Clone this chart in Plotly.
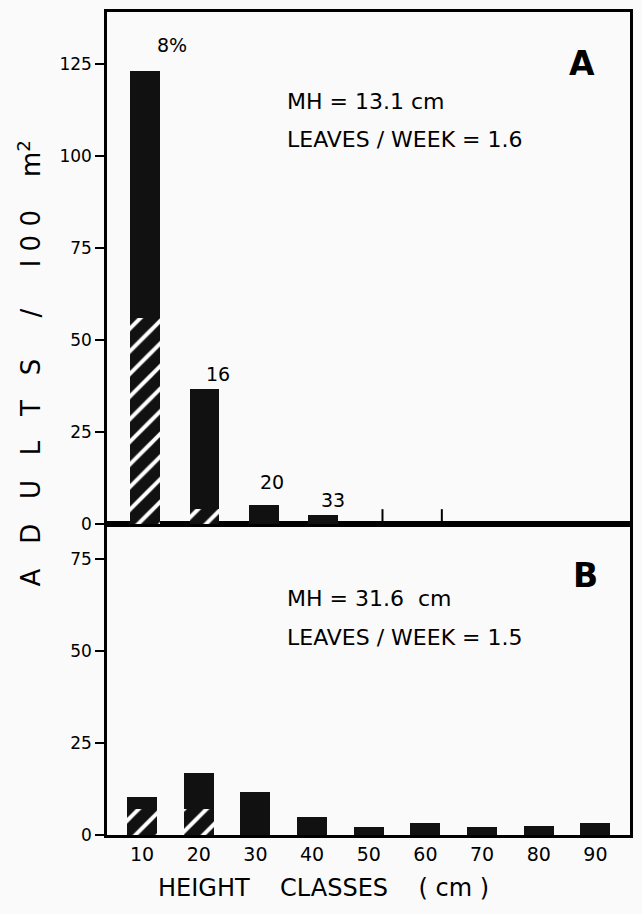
import plotly.graph_objects as go

# ---- data ----
classes_a = [10, 20, 30, 40]
total_a = [123, 36.5, 5, 2.5]
hatched_a = [56, 4, 0, 0]
labels_a = ["8%", "16", "20", "33"]
zero_classes_a = [50, 60]

classes_b = [10, 20, 30, 40, 50, 60, 70, 80, 90]
total_b = [10.3, 16.8, 11.7, 4.9, 2.2, 3.3, 2.2, 2.4, 3.3]
hatched_b = [7, 7, 0, 0, 0, 0, 0, 0, 0]

yticks_a = [0, 25, 50, 75, 100, 125]
yticks_b = [0, 25, 50, 75]
xticks = [10, 20, 30, 40, 50, 60, 70, 80, 90]

# ---- style ----
FONT = "DejaVu Sans"
BG = "#fafafa"
label_xshift = [27, 14, 8, 10]
label_yshift = [26, 15, 23, 15]
pattern = dict(shape="/", fgcolor="white", bgcolor="#111111", size=16,
               solidity=0.25, fgopacity=1, fillmode="replace")

solid_a = [t - h for t, h in zip(total_a, hatched_a)]
solid_b = [t - h for t, h in zip(total_b, hatched_b)]

fig = go.Figure()
# Panel A (top): xaxis2 / yaxis2
fig.add_trace(go.Bar(x=classes_a, y=hatched_a, width=5.0, xaxis="x2", yaxis="y2",
                     marker=dict(color="#111111", pattern=pattern, line=dict(width=0))))
fig.add_trace(go.Bar(x=classes_a, y=solid_a, width=5.0, xaxis="x2", yaxis="y2",
                     marker=dict(color="#111111", line=dict(width=0))))
zx, zy = [], []
for c in zero_classes_a:
    zx += [c, c, None]
    zy += [0, 4, None]
fig.add_trace(go.Scatter(x=zx, y=zy, mode="lines", xaxis="x2", yaxis="y2",
                         line=dict(color="black", width=2)))
# Panel B (bottom)
fig.add_trace(go.Bar(x=classes_b, y=hatched_b, width=5.3, xaxis="x", yaxis="y",
                     marker=dict(color="#111111", pattern=pattern, line=dict(width=0))))
fig.add_trace(go.Bar(x=classes_b, y=solid_b, width=5.3, xaxis="x", yaxis="y",
                     marker=dict(color="#111111", line=dict(width=0))))

ann = []
for c, t, lab, dx, dy in zip(classes_a, total_a, labels_a, label_xshift, label_yshift):
    ann.append(dict(x=c, y=t, xref="x2", yref="y2", text=lab, showarrow=False,
                    xshift=dx, yshift=dy, yanchor="middle",
                    font=dict(family=FONT, size=19, color="black")))
txt = dict(family=FONT, size=22, color="black")
ann += [
    dict(x=0.0, y=0.573, xref="paper", yref="paper", xanchor="center", yanchor="middle",
         text="A   D   U   L   T   S     /     I 0 0    m<sup>2</sup>", textangle=-90,
         showarrow=False, xshift=-77,
         font=dict(family=FONT, size=26, color="black")),
    dict(x=0.414, y=0, xref="paper", yref="paper", text="HEIGHT    CLASSES    ( cm )",
         showarrow=False, yanchor="middle", yshift=-53,
         font=dict(family=FONT, size=24, color="black")),
    dict(x=0.909, y=0.937, xref="paper", yref="paper", text="<b>A</b>", showarrow=False,
         xanchor="center", yanchor="middle", font=dict(family=FONT, size=33, color="black")),
    dict(x=0.914, y=0.315, xref="paper", yref="paper", text="<b>B</b>", showarrow=False,
         xanchor="center", yanchor="middle", font=dict(family=FONT, size=33, color="black")),
    dict(x=0.34, y=0.891, xref="paper", yref="paper", xanchor="left", yanchor="middle",
         text="MH = 13.1 cm", showarrow=False, font=txt),
    dict(x=0.34, y=0.845, xref="paper", yref="paper", xanchor="left", yanchor="middle",
         text="LEAVES / WEEK = 1.6", showarrow=False, font=txt),
    dict(x=0.34, y=0.287, xref="paper", yref="paper", xanchor="left", yanchor="middle",
         text="MH = 31.6  cm", showarrow=False, font=txt),
    dict(x=0.34, y=0.240, xref="paper", yref="paper", xanchor="left", yanchor="middle",
         text="LEAVES / WEEK = 1.5", showarrow=False, font=txt),
]

axis_common = dict(showline=True, linecolor="black", linewidth=2.5, mirror=True,
                   showgrid=False, zeroline=False)
fig.update_layout(
    width=642, height=914, barmode="stack", showlegend=False,
    paper_bgcolor=BG, plot_bgcolor=BG,
    margin=dict(l=107, r=9, t=10, b=79),
    font=dict(family=FONT, color="black"),
    xaxis=dict(domain=[0, 1], range=[3.81, 96.1], tickvals=xticks,
               ticks="", tickfont=dict(size=19), anchor="y", **axis_common),
    yaxis=dict(domain=[0, 0.378], range=[0, 84.5], tickvals=yticks_b, ticks="outside",
               ticklen=9, tickwidth=2, tickcolor="black", tickfont=dict(size=17),
               anchor="x", **axis_common),
    xaxis2=dict(domain=[0, 1], range=[3.59, 91.7], showticklabels=False, ticks="",
                anchor="y2", **axis_common),
    yaxis2=dict(domain=[0.378, 1], range=[0, 139], tickvals=yticks_a, ticks="outside",
                ticklen=9, tickwidth=2, tickcolor="black", tickfont=dict(size=17),
                anchor="x2", **axis_common),
    annotations=ann,
)
fig.write_html("out.html")
